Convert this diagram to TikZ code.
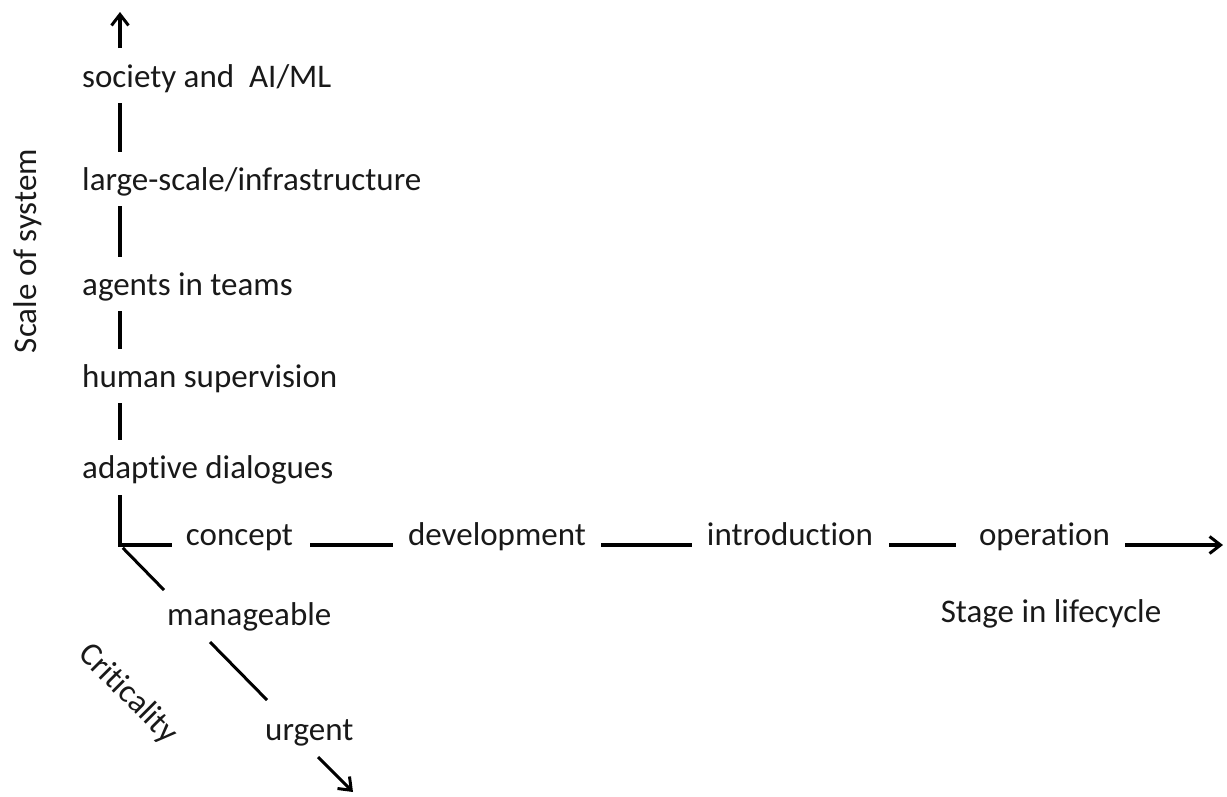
\documentclass[tikz,border=0pt]{standalone}
\usepackage{fontspec}
\setmainfont{Carlito}[Ligatures={NoCommon,NoContextual},RawFeature={-liga;-clig;-calt;-dlig}]
\usetikzlibrary{arrows.meta}
\newcommand{\nl}{\kern0pt{}}
\begin{document}
\begin{tikzpicture}[x=1pt,y=-1pt,
  lbl/.style={inner sep=0pt,font=\fontsize{33}{40}\selectfont,text=black!90},
  seg/.style={line width=3.5pt,draw=black},
  dseg/.style={line width=3pt,draw=black},
  vseg/.style={seg,shorten <=16pt,shorten >=38pt},
  tip/.style={-{Straight Barb[length=11pt,width=17pt,line width=3pt]}}]
\useasboundingbox (0,0) rectangle (1227,796);
% vertical axis labels
\coordinate (ax) at (120,0);
\node[lbl,anchor=base west] (soc) at (82,87) {society and\ \ AI/ML};
\node[lbl,anchor=base west] (large) at (82,190) {large-scale/infrastructure};
\node[lbl,anchor=base west] (agents) at (82,295) {agents in teams};
\node[lbl,anchor=base west] (human) at (82,387) {human supervision};
\node[lbl,anchor=base west] (adapt) at (82,478) {adapt\nl ive dialogues};
% horizontal labels
\node[lbl,anchor=base] (concept) at (239.5,545) {concept};
\node[lbl,anchor=base] (dev) at (497,545) {development};
\node[lbl,anchor=base] (intro) at (790,545) {introduct\nl ion};
\node[lbl,anchor=base] (oper) at (1044.5,545) {operat\nl ion};
\node[lbl,anchor=base] (stage) at (1051,622) {Stage in lifecycle};
% diagonal labels
\node[lbl,anchor=base west] (manage) at (167,625) {manageable};
\node[lbl,anchor=base west] (urgent) at (265,740) {urgent};
% axis titles
\node[lbl,rotate=90] (scale) at (28,251) {Scale of system};
\node[lbl,rotate=-45] (crit) at (128,694) {Crit\nl icality};
% coordinates
\coordinate (O) at (120,545);
\coordinate (top) at (120,12);
\coordinate (right) at (1223,545);
\coordinate (d1) at (164,590);
\coordinate (d2) at (210,642);
\coordinate (d3) at (267,700);
\coordinate (d4) at (318,757);
\coordinate (d5) at (353,792);
% vertical axis
\draw[seg,tip,shorten <=39pt] (soc.base -| ax) -- (top);
\draw[vseg] (soc.base -| ax) -- (large.base -| ax);
\draw[vseg] (large.base -| ax) -- (agents.base -| ax);
\draw[vseg] (agents.base -| ax) -- (human.base -| ax);
\draw[vseg] (human.base -| ax) -- (adapt.base -| ax);
\draw[seg,line join=miter,shorten <=17pt,shorten >=14pt] (adapt.base -| ax) -- (O) -- (concept.base west);
% horizontal axis
\draw[seg,shorten <=17pt,shorten >=15pt] (concept.base east) -- (dev.base west);
\draw[seg,shorten <=15pt,shorten >=15pt] (dev.base east) -- (intro.base west);
\draw[seg,shorten <=16pt,shorten >=23pt] (intro.base east) -- (oper.base west);
\draw[seg,tip,shorten <=15pt] (oper.base east) -- (right);
% criticality axis
\draw[dseg,shorten <=4pt] (O) -- (d1);
\draw[dseg] (d2) -- (d3);
\draw[dseg,tip] (d4) -- (d5);
\end{tikzpicture}
\end{document}
